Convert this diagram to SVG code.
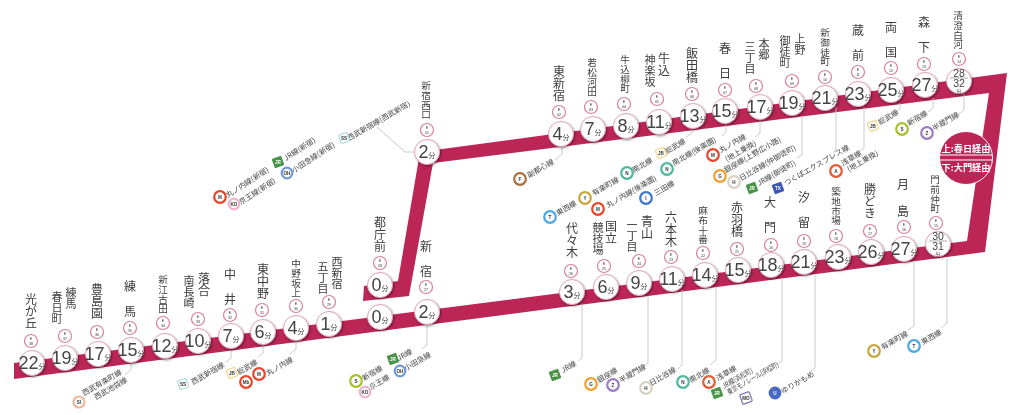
<svg xmlns="http://www.w3.org/2000/svg" width="1024" height="415" viewBox="0 0 1024 415">
<style>
text{font-family:"Noto Sans CJK JP","Liberation Sans",sans-serif;fill:#3d3d3d}
.n{font-size:12px;writing-mode:vertical-rl}
.m{font-size:11px;writing-mode:vertical-rl}
.s{font-size:9.6px;writing-mode:vertical-rl}
.c{fill:#fff;stroke:#e0a4b6;stroke-width:1;filter:url(#sh)}
.t{font-family:"Liberation Sans Narrow","Liberation Sans",sans-serif;font-size:18px;text-anchor:middle;fill:#444}
.u{font-family:"Noto Sans CJK JP",sans-serif;font-size:7px}
.z{font-family:"Liberation Sans Narrow","Liberation Sans",sans-serif;font-size:10.5px;text-anchor:middle;fill:#444}
.b{fill:#fff;stroke:#d9809c;stroke-width:1.2}
.e{font-family:"Liberation Sans",sans-serif;font-size:3.6px;text-anchor:middle;fill:#333}
.r{font-size:7.4px;fill:#444}
.k{fill:#fff;stroke-width:2.2}
.g{font-family:"Liberation Sans",sans-serif;font-size:4.6px;font-weight:bold;text-anchor:middle;fill:#333}
.l{fill:none;stroke:#c4c4c4;stroke-width:.9}
#routebox text{font-size:9.2px;font-weight:bold;fill:#fff;text-anchor:middle}
</style>
<defs>
<filter id="sh" x="-30%" y="-30%" width="170%" height="170%"><feDropShadow dx="1" dy="1.2" stdDeviation="1" flood-color="#000" flood-opacity=".45"/></filter>
<filter id="bl"><feGaussianBlur stdDeviation=".4"/></filter>
</defs>
<g filter="url(#bl)">
<path id="line" fill="#bb2557" d="M14 363L967 241L989 93L433 163L409 296L363 301L364 286L398 281L420 152L1007 73L985 252L14 379Z"/>
<g id="connectors" class="l">
<path d="M131 362V370L125 375"/><path d="M231 350V358L226 362"/><path d="M263 345V353L258 357"/><path d="M296 341V349L290 354"/>
<path d="M427 324V345L422 349"/><path d="M582 304V358L578 361"/><path d="M648 296V363L644 366"/><path d="M682 290V365L678 369"/><path d="M716 287V360L710 365"/><path d="M782 278V361L775 365"/><path d="M815 275V368L810 372"/><path d="M914 262V326L908 330"/><path d="M947 258V323L941 328"/>
<path d="M414 152H405L377 127"/><path d="M562 147V154L555 160"/><path d="M692 129V133L686 137"/><path d="M726 124V132L722 136"/><path d="M760 120V133L755 137"/><path d="M802 116V155L797 158"/><path d="M836 107V150L833 153"/><path d="M864 107V148L860 151"/><path d="M900 103V108L896 113"/><path d="M933 98V108L928 112"/><path d="M964 94V110L958 115"/>
</g>
<g id="s-e38"><circle class="c" cx="32" cy="363" r="12.5"/><text class="t" x="32" y="369">22<tspan class="u">分</tspan></text><circle class="b" cx="31" cy="341" r="6.5"/><text class="e" x="31" y="339.5">E</text><text class="e" x="31" y="344.5">38</text><text class="n" x="31" y="293">光が丘</text></g>
<g id="s-e37"><circle class="c" cx="65" cy="358" r="12.5"/><text class="t" x="65" y="364">19<tspan class="u">分</tspan></text><circle class="b" cx="65" cy="336" r="6.5"/><text class="e" x="65" y="334.5">E</text><text class="e" x="65" y="339.5">37</text><text class="m" x="71" y="287">練馬</text><text class="m" x="57" y="291">春日町</text></g>
<g id="s-e36"><circle class="c" cx="98" cy="354" r="12.5"/><text class="t" x="98" y="360">17<tspan class="u">分</tspan></text><circle class="b" cx="97" cy="332" r="6.5"/><text class="e" x="97" y="330.5">E</text><text class="e" x="97" y="335.5">36</text><text class="n" x="97" y="283">豊島園</text></g>
<g id="s-e35"><circle class="c" cx="131" cy="350" r="12.5"/><text class="t" x="131" y="356">15<tspan class="u">分</tspan></text><circle class="b" cx="130" cy="328" r="6.5"/><text class="e" x="130" y="326.5">E</text><text class="e" x="130" y="331.5">35</text><text class="n" x="130" y="280" letter-spacing="13">練馬</text>
<g transform="translate(84 396) rotate(-30)"><text class="r">西武有楽町線</text></g><g transform="translate(96 400) rotate(-30)"><text class="r">西武池袋線</text></g><circle class="k" stroke="#f2b79a" cx="79" cy="402" r="5.5"/><text class="g" x="79" y="403.6">SI</text></g>
<g id="s-e34"><circle class="c" cx="165" cy="346" r="12.5"/><text class="t" x="165" y="352">12<tspan class="u">分</tspan></text><circle class="b" cx="163" cy="323" r="6.5"/><text class="e" x="163" y="321.5">E</text><text class="e" x="163" y="326.5">34</text><text class="s" x="163" y="275">新江古田</text></g>
<g id="s-e33"><circle class="c" cx="198" cy="341" r="12.5"/><text class="t" x="198" y="347">10<tspan class="u">分</tspan></text><circle class="b" cx="198" cy="319" r="6.5"/><text class="e" x="198" y="317.5">E</text><text class="e" x="198" y="322.5">33</text><text class="n" x="204" y="272">落合</text><text class="m" x="189" y="275">南長崎</text></g>
<g id="s-e32"><circle class="c" cx="231" cy="336" r="12.5"/><text class="t" x="231" y="342">7<tspan class="u">分</tspan></text><circle class="b" cx="230" cy="315" r="6.5"/><text class="e" x="230" y="313.5">E</text><text class="e" x="230" y="318.5">32</text><text class="n" x="230" y="268" letter-spacing="13">中井</text>
<g transform="translate(193 385) rotate(-30)"><text class="r">西武新宿線</text></g><rect x="178.500" y="379.500" width="9" height="9" rx="1.500" fill="#fff" stroke="#a9dcdc" stroke-width="1.200" transform="rotate(-20 183 384)"/><text class="g" x="183" y="385.600">SS</text></g>
<g id="s-e31"><circle class="c" cx="263" cy="332" r="12.5"/><text class="t" x="263" y="338">6<tspan class="u">分</tspan></text><circle class="b" cx="262" cy="310" r="6.5"/><text class="e" x="262" y="308.5">E</text><text class="e" x="262" y="313.5">31</text><text class="n" x="263" y="263">東中野</text>
<g transform="translate(239 375) rotate(-30)"><text class="r">総武線</text></g><rect x="227.500" y="368.500" width="9" height="9" rx="1" fill="#fff" stroke="#f0d98a" stroke-width="1.200" transform="rotate(-20 232 373)"/><text class="g" x="232" y="374.600">JB</text><circle class="k" stroke="#e8452a" cx="246" cy="382" r="5.8"/><text class="g" x="246" y="383.600">Mb</text></g>
<g id="s-e30"><circle class="c" cx="296" cy="328" r="12.5"/><text class="t" x="296" y="334">4<tspan class="u">分</tspan></text><circle class="b" cx="296" cy="306" r="6.5"/><text class="e" x="296" y="304.5">E</text><text class="e" x="296" y="309.5">30</text><text class="s" x="296" y="259">中野坂上</text>
<g transform="translate(268 376) rotate(-30)"><text class="r">丸ノ内線</text></g><circle class="k" stroke="#e8452a" cx="259" cy="374" r="5.8"/><text class="g" x="259" y="375.600">M</text></g>
<g id="s-e29"><circle class="c" cx="329" cy="324" r="12.5"/><text class="t" x="329" y="330">1<tspan class="u">分</tspan></text><circle class="b" cx="329" cy="302" r="6.5"/><text class="e" x="329" y="300.500">E</text><text class="e" x="329" y="305.500">29</text><text class="m" x="337" y="256">西新宿</text><text class="m" x="323" y="261">五丁目</text></g>
<g id="s-e28a"><circle class="c" cx="380" cy="317" r="12.5"/><text class="t" x="380" y="323">0<tspan class="u">分</tspan></text></g>
<g id="s-e28"><circle class="c" cx="380" cy="285" r="12.5"/><text class="t" x="380" y="291">0<tspan class="u">分</tspan></text><circle class="b" cx="380" cy="263" r="6.500"/><text class="e" x="380" y="261.500">E</text><text class="e" x="380" y="266.500">28</text><text class="n" x="380" y="216">都庁前</text></g>
<g id="s-e27"><circle class="c" cx="427" cy="312" r="12.5"/><text class="t" x="427" y="318">2<tspan class="u">分</tspan></text><circle class="b" cx="426" cy="287" r="6.500"/><text class="e" x="426" y="285.500">E</text><text class="e" x="426" y="290.500">27</text><text class="n" x="426" y="240" letter-spacing="13">新宿</text>
<g transform="translate(364 381) rotate(-30)"><text class="r">新宿線</text></g><circle class="k" stroke="#a6c22c" cx="356" cy="381" r="5.800"/><text class="g" x="356" y="382.600">S</text>
<g transform="translate(371 390) rotate(-30)"><text class="r">京王線</text></g><circle class="k" stroke="#eeb3cf" cx="365" cy="392" r="5.300"/><text class="g" x="365" y="393.600">KO</text>
<g transform="translate(399 361) rotate(-30)"><text class="r">JR線</text></g><rect x="388" y="354" width="10" height="10" rx="1" fill="#4a9448" transform="rotate(-20 393 359)"/><text class="g" x="393" y="360.600" style="fill:#fff">JR</text>
<g transform="translate(406 371) rotate(-30)"><text class="r">小田急線</text></g><circle class="k" stroke="#6f9ae0" cx="400" cy="371" r="5.300"/><text class="g" x="400" y="372.600">OH</text></g>
<g id="s-e26"><circle class="c" cx="572" cy="292" r="12.5"/><text class="t" x="572" y="298">3<tspan class="u">分</tspan></text><circle class="b" cx="571" cy="271" r="6.500"/><text class="e" x="571" y="269.500">E</text><text class="e" x="571" y="274.500">26</text><text class="n" x="572" y="222">代々木</text>
<g transform="translate(563 373) rotate(-30)"><text class="r">JR線</text></g><rect x="550" y="370" width="10" height="10" rx="1" fill="#4a9448" transform="rotate(-20 555 375)"/><text class="g" x="555" y="376.600" style="fill:#fff">JR</text></g>
<g id="s-e25"><circle class="c" cx="606" cy="287" r="12.5"/><text class="t" x="606" y="293">6<tspan class="u">分</tspan></text><circle class="b" cx="604" cy="266" r="6.500"/><text class="e" x="604" y="264.500">E</text><text class="e" x="604" y="269.500">25</text><text class="n" x="611" y="220">国立</text><text class="m" x="598" y="222">競技場</text>
<g transform="translate(599 383) rotate(-30)"><text class="r">銀座線</text></g><circle class="k" stroke="#f0a030" cx="591" cy="384" r="5.800"/><text class="g" x="591" y="385.600">G</text></g>
<g id="s-e24"><circle class="c" cx="639" cy="283" r="12.5"/><text class="t" x="639" y="289">9<tspan class="u">分</tspan></text><circle class="b" cx="639" cy="261" r="6.500"/><text class="e" x="639" y="259.500">E</text><text class="e" x="639" y="264.500">24</text><text class="n" x="647" y="215">青山</text><text class="m" x="632" y="219">一丁目</text>
<g transform="translate(621 383) rotate(-30)"><text class="r">半蔵門線</text></g><circle class="k" stroke="#9b7cc6" cx="613" cy="385" r="5.800"/><text class="g" x="613" y="386.600">Z</text></g>
<g id="s-e23"><circle class="c" cx="672" cy="279" r="12.5"/><text class="t" x="672" y="285">11<tspan class="u">分</tspan></text><circle class="b" cx="671" cy="257" r="6.500"/><text class="e" x="671" y="255.500">E</text><text class="e" x="671" y="260.500">23</text><text class="n" x="671" y="211">六本木</text>
<g transform="translate(651 386) rotate(-30)"><text class="r">日比谷線</text></g><circle class="k" stroke="#d8d2c4" cx="646" cy="388" r="5.800"/><text class="g" x="646" y="389.600">H</text></g>
<g id="s-e22"><circle class="c" cx="705" cy="275" r="12.5"/><text class="t" x="705" y="281">14<tspan class="u">分</tspan></text><circle class="b" cx="703" cy="253" r="6.500"/><text class="e" x="703" y="251.500">E</text><text class="e" x="703" y="256.500">22</text><text class="s" x="703" y="206">麻布十番</text>
<g transform="translate(691 383) rotate(-30)"><text class="r">南北線</text></g><circle class="k" stroke="#4fb89a" cx="683" cy="382" r="5.800"/><text class="g" x="683" y="383.600">N</text></g>
<g id="s-e21"><circle class="c" cx="738" cy="270" r="12.5"/><text class="t" x="738" y="276">15<tspan class="u">分</tspan></text><circle class="b" cx="737" cy="249" r="6.500"/><text class="e" x="737" y="247.500">E</text><text class="e" x="737" y="252.500">21</text><text class="n" x="737" y="201">赤羽橋</text></g>
<g id="s-e20"><circle class="c" cx="771" cy="265" r="12.5"/><text class="t" x="771" y="271">18<tspan class="u">分</tspan></text><circle class="b" cx="771" cy="245" r="6.500"/><text class="e" x="771" y="243.500">E</text><text class="e" x="771" y="248.500">20</text><text class="n" x="770" y="196" letter-spacing="13">大門</text>
<g transform="translate(718 381) rotate(-30)"><text class="r">浅草線</text></g><circle class="k" stroke="#e85a32" cx="709" cy="382" r="5.800"/><text class="g" x="709" y="383.600">A</text>
<g transform="translate(724 389) rotate(-30)"><text class="r" textLength="34" lengthAdjust="spacingAndGlyphs">JR線(浜松町)</text></g><rect x="712" y="388" width="10" height="10" rx="1" fill="#4a9448" transform="rotate(-20 717 393)"/><text class="g" x="717" y="394.600" style="fill:#fff">JR</text>
<g transform="translate(729 395) rotate(-30)"><text class="r" textLength="58" lengthAdjust="spacingAndGlyphs">東京モノレール(浜松町)</text></g><rect x="741" y="393" width="10" height="10" rx="1" fill="#fff" stroke="#7c76b8" stroke-width="1.200" transform="rotate(-20 746 398)"/><text class="g" x="746" y="399.600">MO</text></g>
<g id="s-e19"><circle class="c" cx="804" cy="262" r="12.5"/><text class="t" x="804" y="268">21<tspan class="u">分</tspan></text><circle class="b" cx="804" cy="241" r="6.500"/><text class="e" x="804" y="239.500">E</text><text class="e" x="804" y="244.500">19</text><text class="n" x="804" y="191" letter-spacing="13">汐留</text>
<g transform="translate(783 394) rotate(-30)"><text class="r">ゆりかもめ</text></g><circle class="k" stroke="#4a68c0" style="fill:#4a68c0" cx="775" cy="393" r="5.300"/><text class="g" x="775" y="394.600" style="fill:#fff">U</text></g>
<g id="s-e18"><circle class="c" cx="838" cy="257" r="12.5"/><text class="t" x="838" y="263">23<tspan class="u">分</tspan></text><circle class="b" cx="836" cy="236" r="6.500"/><text class="e" x="836" y="234.500">E</text><text class="e" x="836" y="239.500">18</text><text class="s" x="836" y="187">築地市場</text></g>
<g id="s-e17"><circle class="c" cx="871" cy="252" r="12.5"/><text class="t" x="871" y="258">26<tspan class="u">分</tspan></text><circle class="b" cx="870" cy="231" r="6.500"/><text class="e" x="870" y="229.500">E</text><text class="e" x="870" y="234.500">17</text><text class="n" x="870" y="183">勝どき</text></g>
<g id="s-e16"><circle class="c" cx="904" cy="249" r="12.5"/><text class="t" x="904" y="255">27<tspan class="u">分</tspan></text><circle class="b" cx="904" cy="227" r="6.500"/><text class="e" x="904" y="225.500">E</text><text class="e" x="904" y="230.500">16</text><text class="n" x="903" y="178" letter-spacing="15">月島</text>
<g transform="translate(883 350) rotate(-30)"><text class="r">有楽町線</text></g><circle class="k" stroke="#c9a63e" cx="874" cy="351" r="5.800"/><text class="g" x="874" y="352.600">Y</text></g>
<g id="s-e15"><circle class="c" cx="938" cy="244" r="12.5"/><text class="z" x="938" y="240">30</text><path d="M929 241H947" stroke="#555" stroke-width=".5"/><text class="z" x="938" y="250">31</text><text class="u" x="938" y="256" text-anchor="middle" style="font-size:5px">分</text><circle class="b" cx="936" cy="223" r="6.500"/><text class="e" x="936" y="221.500">E</text><text class="e" x="936" y="226.500">15</text><text class="s" x="935" y="175">門前仲町</text>
<g transform="translate(923 345) rotate(-30)"><text class="r">東西線</text></g><circle class="k" stroke="#4ba8e8" cx="914" cy="346" r="5.800"/><text class="g" x="914" y="347.600">T</text></g>
<g id="s-e01"><circle class="c" cx="427" cy="152" r="12.5"/><text class="t" x="427" y="158">2<tspan class="u">分</tspan></text><circle class="b" cx="427" cy="130" r="6.500"/><text class="e" x="427" y="128.500">E</text><text class="e" x="427" y="133.500">01</text><text class="s" x="426" y="81">新宿西口</text>
<g transform="translate(228 198) rotate(-33)"><text class="r">丸ノ内線(新宿)</text></g><circle class="k" stroke="#e8452a" cx="220" cy="197" r="5.800"/><text class="g" x="220" y="198.600">M</text>
<g transform="translate(241 205) rotate(-33)"><text class="r">京王線(新宿)</text></g><circle class="k" stroke="#eeb3cf" cx="234" cy="204" r="5.300"/><text class="g" x="234" y="205.600">KO</text>
<g transform="translate(286 161) rotate(-33)"><text class="r">JR線(新宿)</text></g><rect x="273" y="157" width="10" height="10" rx="1" fill="#4a9448" transform="rotate(-20 278 162)"/><text class="g" x="278" y="163.600" style="fill:#fff">JR</text>
<g transform="translate(294 173) rotate(-33)"><text class="r">小田急線(新宿)</text></g><circle class="k" stroke="#6f9ae0" cx="287" cy="173" r="5.300"/><text class="g" x="287" y="174.600">OH</text>
<g transform="translate(349 141) rotate(-30)"><text class="r">西武新宿線(西武新宿)</text></g><rect x="339.500" y="133.500" width="9" height="9" rx="1.500" fill="#fff" stroke="#a9dcdc" stroke-width="1.200" transform="rotate(-20 344 138)"/><text class="g" x="344" y="139.600">SS</text></g>
<g id="s-e02"><circle class="c" cx="561" cy="134" r="12.5"/><text class="t" x="561" y="140">4<tspan class="u">分</tspan></text><circle class="b" cx="559" cy="112" r="6.500"/><text class="e" x="559" y="110.500">E</text><text class="e" x="559" y="115.500">02</text><text class="n" x="559" y="65">東新宿</text>
<g transform="translate(529 178) rotate(-30)"><text class="r">副都心線</text></g><circle class="k" stroke="#a8703a" cx="520" cy="179" r="5.800"/><text class="g" x="520" y="180.600">F</text></g>
<g id="s-e03"><circle class="c" cx="593" cy="129" r="12.5"/><text class="t" x="593" y="135">7<tspan class="u">分</tspan></text><circle class="b" cx="591" cy="107" r="6.500"/><text class="e" x="591" y="105.500">E</text><text class="e" x="591" y="110.500">03</text><text class="s" x="592" y="58">若松河田</text></g>
<g id="s-e04"><circle class="c" cx="626" cy="126" r="12.5"/><text class="t" x="626" y="132">8<tspan class="u">分</tspan></text><circle class="b" cx="624" cy="104" r="6.500"/><text class="e" x="624" y="102.500">E</text><text class="e" x="624" y="107.500">04</text><text class="s" x="625" y="55">牛込柳町</text></g>
<g id="s-e05"><circle class="c" cx="659" cy="122" r="12.5"/><text class="t" x="659" y="128">11<tspan class="u">分</tspan></text><circle class="b" cx="657" cy="99" r="6.500"/><text class="e" x="657" y="97.500">E</text><text class="e" x="657" y="102.500">05</text><text class="n" x="664" y="52">牛込</text><text class="m" x="650" y="54">神楽坂</text></g>
<g id="s-e06"><circle class="c" cx="693" cy="116" r="12.5"/><text class="t" x="693" y="122">13<tspan class="u">分</tspan></text><circle class="b" cx="692" cy="94" r="6.500"/><text class="e" x="692" y="92.500">E</text><text class="e" x="692" y="97.500">06</text><text class="n" x="692" y="47">飯田橋</text>
<g transform="translate(558 216) rotate(-30)"><text class="r">東西線</text></g><circle class="k" stroke="#4ba8e8" cx="550" cy="217" r="5.800"/><text class="g" x="550" y="218.600">T</text>
<g transform="translate(594 196) rotate(-30)"><text class="r">有楽町線</text></g><circle class="k" stroke="#c9a63e" cx="585" cy="198" r="5.800"/><text class="g" x="585" y="199.600">Y</text>
<g transform="translate(634 173) rotate(-30)"><text class="r">南北線</text></g><circle class="k" stroke="#4fb89a" cx="627" cy="173" r="5.800"/><text class="g" x="627" y="174.600">N</text>
<g transform="translate(667 154) rotate(-30)"><text class="r">総武線</text></g><rect x="656.500" y="148.500" width="9" height="9" rx="1" fill="#fff" stroke="#f0d98a" stroke-width="1.200" transform="rotate(-20 661 153)"/><text class="g" x="661" y="154.600">JB</text></g>
<g id="s-e07"><circle class="c" cx="725" cy="111" r="12.5"/><text class="t" x="725" y="117">15<tspan class="u">分</tspan></text><circle class="b" cx="725" cy="90" r="6.500"/><text class="e" x="725" y="88.500">E</text><text class="e" x="725" y="93.500">07</text><text class="n" x="725" y="42" letter-spacing="13">春日</text>
<g transform="translate(608 208) rotate(-30)"><text class="r">丸ノ内線(後楽園)</text></g><circle class="k" stroke="#e8452a" cx="598" cy="209" r="5.800"/><text class="g" x="598" y="210.600">M</text>
<g transform="translate(656 196) rotate(-30)"><text class="r">三田線</text></g><circle class="k" stroke="#3a78c8" cx="646" cy="198" r="5.800"/><text class="g" x="646" y="199.600">I</text>
<g transform="translate(674 166) rotate(-30)"><text class="r">南北線(後楽園)</text></g><circle class="k" stroke="#4fb89a" cx="667" cy="169" r="5.800"/><text class="g" x="667" y="170.600">N</text></g>
<g id="s-e08"><circle class="c" cx="760" cy="107" r="12.5"/><text class="t" x="760" y="113">17<tspan class="u">分</tspan></text><circle class="b" cx="756" cy="86" r="6.500"/><text class="e" x="756" y="84.500">E</text><text class="e" x="756" y="89.500">08</text><text class="m" x="764" y="38">本郷</text><text class="m" x="750" y="41">三丁目</text>
<g transform="translate(721 153) rotate(-30)"><text class="r">丸ノ内線</text></g><g transform="translate(727 162) rotate(-30)"><text class="r">(地上乗換)</text></g><circle class="k" stroke="#e8452a" cx="713" cy="155" r="5.800"/><text class="g" x="713" y="156.600">M</text>
<g transform="translate(726 173) rotate(-30)"><text class="r">銀座線(上野広小路)</text></g><circle class="k" stroke="#f0a030" cx="720" cy="176" r="5.800"/><text class="g" x="720" y="177.600">G</text></g>
<g id="s-e09"><circle class="c" cx="792" cy="103" r="12.5"/><text class="t" x="792" y="109">19<tspan class="u">分</tspan></text><circle class="b" cx="792" cy="81" r="6.500"/><text class="e" x="792" y="79.500">E</text><text class="e" x="792" y="84.500">09</text><text class="m" x="800" y="33">上野</text><text class="m" x="785" y="35">御徒町</text>
<g transform="translate(741 181) rotate(-30)"><text class="r">日比谷線(仲御徒町)</text></g><circle class="k" stroke="#d8d2c4" cx="734" cy="182" r="5.800"/><text class="g" x="734" y="183.600">H</text>
<g transform="translate(759 186) rotate(-30)"><text class="r">JR線(御徒町)</text></g><rect x="747" y="183" width="10" height="10" rx="1" fill="#4a9448" transform="rotate(-20 752 188)"/><text class="g" x="752" y="189.600" style="fill:#fff">JR</text></g>
<g id="s-e10"><circle class="c" cx="825" cy="98" r="12.5"/><text class="t" x="825" y="104">21<tspan class="u">分</tspan></text><circle class="b" cx="825" cy="77" r="6.500"/><text class="e" x="825" y="75.500">E</text><text class="e" x="825" y="80.500">10</text><text class="s" x="825" y="28">新御徒町</text>
<g transform="translate(786 186) rotate(-30)"><text class="r">つくばエクスプレス線</text></g><rect x="773" y="183" width="10" height="10" rx="1" fill="#3a55b8" transform="rotate(-20 778 188)"/><text class="g" x="778" y="189.600" style="fill:#fff">TX</text></g>
<g id="s-e11"><circle class="c" cx="858" cy="94" r="12.5"/><text class="t" x="858" y="100">23<tspan class="u">分</tspan></text><circle class="b" cx="858" cy="72" r="6.500"/><text class="e" x="858" y="70.500">E</text><text class="e" x="858" y="75.500">11</text><text class="n" x="858" y="24" letter-spacing="13">蔵前</text>
<g transform="translate(843 166) rotate(-30)"><text class="r">浅草線</text></g><g transform="translate(849 172) rotate(-30)"><text class="r">(地上乗換)</text></g><circle class="k" stroke="#e85a32" cx="836" cy="171" r="5.800"/><text class="g" x="836" y="172.600">A</text></g>
<g id="s-e12"><circle class="c" cx="891" cy="90" r="12.5"/><text class="t" x="891" y="96">25<tspan class="u">分</tspan></text><circle class="b" cx="891" cy="68" r="6.500"/><text class="e" x="891" y="66.500">E</text><text class="e" x="891" y="71.500">12</text><text class="n" x="891" y="21" letter-spacing="13">両国</text>
<g transform="translate(880 125) rotate(-30)"><text class="r">総武線</text></g><rect x="868.500" y="121.500" width="9" height="9" rx="1" fill="#fff" stroke="#f0d98a" stroke-width="1.200" transform="rotate(-20 873 126)"/><text class="g" x="873" y="127.600">JB</text></g>
<g id="s-e13"><circle class="c" cx="925" cy="85" r="12.5"/><text class="t" x="925" y="91">27<tspan class="u">分</tspan></text><circle class="b" cx="924" cy="64" r="6.500"/><text class="e" x="924" y="62.500">E</text><text class="e" x="924" y="67.500">13</text><text class="n" x="924" y="16" letter-spacing="13">森下</text>
<g transform="translate(909 126) rotate(-30)"><text class="r">新宿線</text></g><circle class="k" stroke="#a6c22c" cx="902" cy="129" r="5.800"/><text class="g" x="902" y="130.600">S</text></g>
<g id="s-e14"><circle class="c" cx="959" cy="81" r="12.5"/><text class="z" x="959" y="77">28</text><path d="M950 78H968" stroke="#555" stroke-width=".5"/><text class="z" x="959" y="87">32</text><text class="u" x="959" y="93" text-anchor="middle" style="font-size:5px">分</text><circle class="b" cx="959" cy="59" r="6.500"/><text class="e" x="959" y="57.500">E</text><text class="e" x="959" y="62.500">14</text><text class="s" x="958" y="11">清澄白河</text>
<g transform="translate(934 131) rotate(-30)"><text class="r">半蔵門線</text></g><circle class="k" stroke="#9b7cc6" cx="927" cy="133" r="5.800"/><text class="g" x="927" y="134.600">Z</text></g>
<g id="routebox"><circle cx="966" cy="158" r="26.500" fill="#bb2557" stroke="#fff" stroke-width="1"/><path d="M940 155H992M940 160H992" stroke="#fff" stroke-width="1.200"/><text x="966" y="151.500">上:春日経由</text><text x="966" y="170.500">下:大門経由</text></g>
</g>
</svg>
